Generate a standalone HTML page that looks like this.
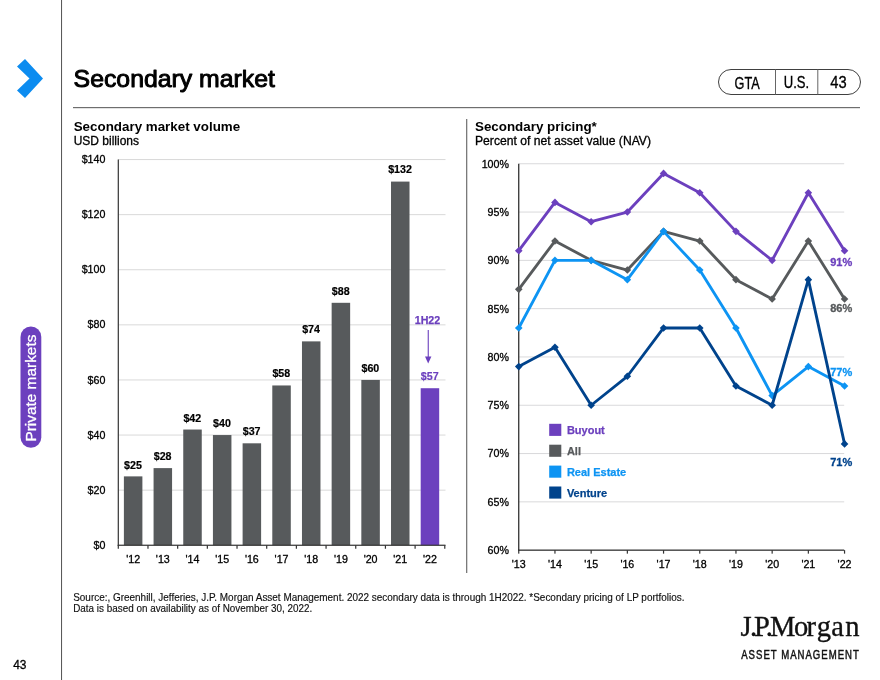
<!DOCTYPE html><html><head><meta charset="utf-8"><title>Secondary market</title>
<style>html,body{margin:0;padding:0;background:#fff}body{width:880px;height:680px;overflow:hidden;font-family:"Liberation Sans",Arial,sans-serif}svg{display:block}text{font-family:"Liberation Sans",Arial,sans-serif}.k{stroke:#000;stroke-width:.3px}</style></head><body>
<svg width="880" height="680" viewBox="0 0 880 680">
<rect width="880" height="680" fill="#fff"/>
<rect x="61" y="0" width="1.05" height="680" fill="#5a5a5a"/>
<polygon points="25,59 43,78.5 25,98 17,90.5 29.5,78.5 17,66.5" fill="#0c8cf0"/>
<rect x="20.5" y="326.5" width="20.8" height="121.3" rx="10.4" fill="#6c40be"/>
<text transform="translate(36.3,441.6) rotate(-90)" font-size="15" fill="#fff" stroke="#fff" stroke-width="0.3" textLength="107" lengthAdjust="spacingAndGlyphs">Private markets</text>
<text x="13.2" y="668.9" font-size="13.2" fill="#000" class="k" textLength="13.3" lengthAdjust="spacingAndGlyphs">43</text>
<text x="73.6" y="87.4" font-size="23.6" fill="#000" stroke="#000" stroke-width="0.95" stroke-linejoin="round" textLength="201.3" lengthAdjust="spacingAndGlyphs">Secondary market</text>
<rect x="73" y="107" width="787" height="1.2" fill="#6e6e6e"/>
<rect x="718.5" y="69.5" width="142" height="25" rx="12.5" fill="#fff" stroke="#2a2a2a" stroke-width="0.9"/>
<rect x="775" y="69.5" width="1" height="25" fill="#666"/><rect x="817.3" y="69.5" width="1" height="25" fill="#666"/>
<text x="734.5" y="88.8" font-size="15.6" fill="#000" class="k" textLength="25.2" lengthAdjust="spacingAndGlyphs">GTA</text>
<text x="783.8" y="88.1" font-size="15.6" fill="#000" class="k" textLength="25.4" lengthAdjust="spacingAndGlyphs">U.S.</text>
<text x="830.3" y="88.1" font-size="15.6" fill="#000" class="k" textLength="16.4" lengthAdjust="spacingAndGlyphs">43</text>
<text x="73.7" y="130.9" font-size="13.6" font-weight="bold" fill="#000" textLength="166.5" lengthAdjust="spacingAndGlyphs">Secondary market volume</text>
<text x="73.7" y="144.9" font-size="12" fill="#000" class="k">USD billions</text>
<text x="105.4" y="549" font-size="10.67" text-anchor="end" fill="#000" class="k">$0</text>
<rect x="118.3" y="489.65" width="327.2" height="1" fill="#d9d9d9"/>
<text x="105.4" y="494" font-size="10.67" text-anchor="end" fill="#000" class="k">$20</text>
<rect x="118.3" y="434.55" width="327.2" height="1" fill="#d9d9d9"/>
<text x="105.4" y="439" font-size="10.67" text-anchor="end" fill="#000" class="k">$40</text>
<rect x="118.3" y="379.45" width="327.2" height="1" fill="#d9d9d9"/>
<text x="105.4" y="384" font-size="10.67" text-anchor="end" fill="#000" class="k">$60</text>
<rect x="118.3" y="324.35" width="327.2" height="1" fill="#d9d9d9"/>
<text x="105.4" y="328" font-size="10.67" text-anchor="end" fill="#000" class="k">$80</text>
<rect x="118.3" y="269.25" width="327.2" height="1" fill="#d9d9d9"/>
<text x="105.4" y="273" font-size="10.67" text-anchor="end" fill="#000" class="k">$100</text>
<rect x="118.3" y="214.15" width="327.2" height="1" fill="#d9d9d9"/>
<text x="105.4" y="218" font-size="10.67" text-anchor="end" fill="#000" class="k">$120</text>
<rect x="118.3" y="159.05" width="327.2" height="1" fill="#d9d9d9"/>
<text x="105.4" y="163" font-size="10.67" text-anchor="end" fill="#000" class="k">$140</text>
<rect x="123.89" y="476.38" width="18.5" height="68.88" fill="#575a5c"/>
<text x="132.94" y="469" font-size="10.67" font-weight="bold" text-anchor="middle" fill="#000" stroke="#000" stroke-width="0.2">$25</text>
<text x="133.14" y="563" font-size="10.67" text-anchor="middle" fill="#000" class="k">'12</text>
<rect x="153.57" y="468.11" width="18.5" height="77.14" fill="#575a5c"/>
<text x="162.62" y="460" font-size="10.67" font-weight="bold" text-anchor="middle" fill="#000" stroke="#000" stroke-width="0.2">$28</text>
<text x="162.82" y="563" font-size="10.67" text-anchor="middle" fill="#000" class="k">'13</text>
<rect x="183.25" y="429.54" width="18.5" height="115.71" fill="#575a5c"/>
<text x="192.30" y="422" font-size="10.67" font-weight="bold" text-anchor="middle" fill="#000" stroke="#000" stroke-width="0.2">$42</text>
<text x="192.50" y="563" font-size="10.67" text-anchor="middle" fill="#000" class="k">'14</text>
<rect x="212.93" y="435.05" width="18.5" height="110.20" fill="#575a5c"/>
<text x="221.98" y="427" font-size="10.67" font-weight="bold" text-anchor="middle" fill="#000" stroke="#000" stroke-width="0.2">$40</text>
<text x="222.18" y="563" font-size="10.67" text-anchor="middle" fill="#000" class="k">'15</text>
<rect x="242.61" y="443.31" width="18.5" height="101.94" fill="#575a5c"/>
<text x="251.66" y="435" font-size="10.67" font-weight="bold" text-anchor="middle" fill="#000" stroke="#000" stroke-width="0.2">$37</text>
<text x="251.86" y="563" font-size="10.67" text-anchor="middle" fill="#000" class="k">'16</text>
<rect x="272.29" y="385.46" width="18.5" height="159.79" fill="#575a5c"/>
<text x="281.34" y="377" font-size="10.67" font-weight="bold" text-anchor="middle" fill="#000" stroke="#000" stroke-width="0.2">$58</text>
<text x="281.54" y="563" font-size="10.67" text-anchor="middle" fill="#000" class="k">'17</text>
<rect x="301.97" y="341.38" width="18.5" height="203.87" fill="#575a5c"/>
<text x="311.02" y="333" font-size="10.67" font-weight="bold" text-anchor="middle" fill="#000" stroke="#000" stroke-width="0.2">$74</text>
<text x="311.22" y="563" font-size="10.67" text-anchor="middle" fill="#000" class="k">'18</text>
<rect x="331.65" y="302.81" width="18.5" height="242.44" fill="#575a5c"/>
<text x="340.70" y="295" font-size="10.67" font-weight="bold" text-anchor="middle" fill="#000" stroke="#000" stroke-width="0.2">$88</text>
<text x="340.90" y="563" font-size="10.67" text-anchor="middle" fill="#000" class="k">'19</text>
<rect x="361.33" y="379.95" width="18.5" height="165.30" fill="#575a5c"/>
<text x="370.38" y="372" font-size="10.67" font-weight="bold" text-anchor="middle" fill="#000" stroke="#000" stroke-width="0.2">$60</text>
<text x="370.58" y="563" font-size="10.67" text-anchor="middle" fill="#000" class="k">'20</text>
<rect x="391.01" y="181.59" width="18.5" height="363.66" fill="#575a5c"/>
<text x="400.06" y="173" font-size="10.67" font-weight="bold" text-anchor="middle" fill="#000" stroke="#000" stroke-width="0.2">$132</text>
<text x="400.26" y="563" font-size="10.67" text-anchor="middle" fill="#000" class="k">'21</text>
<rect x="420.69" y="388.22" width="18.5" height="157.03" fill="#6c40be"/>
<text x="429.74" y="380" font-size="10.67" font-weight="bold" text-anchor="middle" fill="#6c40be" stroke="#6c40be" stroke-width="0.2">$57</text>
<text x="429.94" y="563" font-size="10.67" text-anchor="middle" fill="#000" class="k">'22</text>
<rect x="117.7" y="159.5" width="1.2" height="386.35" fill="#333"/>
<rect x="117.7" y="544.65" width="327.8" height="1.2" fill="#333"/>
<rect x="117.70" y="545.25" width="1.2" height="3.5" fill="#333"/>
<rect x="147.38" y="545.25" width="1.2" height="3.5" fill="#333"/>
<rect x="177.06" y="545.25" width="1.2" height="3.5" fill="#333"/>
<rect x="206.74" y="545.25" width="1.2" height="3.5" fill="#333"/>
<rect x="236.42" y="545.25" width="1.2" height="3.5" fill="#333"/>
<rect x="266.10" y="545.25" width="1.2" height="3.5" fill="#333"/>
<rect x="295.78" y="545.25" width="1.2" height="3.5" fill="#333"/>
<rect x="325.46" y="545.25" width="1.2" height="3.5" fill="#333"/>
<rect x="355.14" y="545.25" width="1.2" height="3.5" fill="#333"/>
<rect x="384.82" y="545.25" width="1.2" height="3.5" fill="#333"/>
<rect x="414.50" y="545.25" width="1.2" height="3.5" fill="#333"/>
<rect x="444.18" y="545.25" width="1.2" height="3.5" fill="#333"/>
<text x="427.5" y="323.6" font-size="10.67" font-weight="bold" text-anchor="middle" fill="#6c40be" stroke="#6c40be" stroke-width="0.25">1H22</text>
<rect x="427.7" y="330" width="1.1" height="28" fill="#6c40be"/>
<polygon points="425,356.5 431.4,356.5 428.2,363.6" fill="#6c40be"/>
<rect x="466.2" y="119" width="1.05" height="454" fill="#5a5a5a"/>
<text x="475" y="130.9" font-size="13.6" font-weight="bold" fill="#000" textLength="121.8" lengthAdjust="spacingAndGlyphs">Secondary pricing*</text>
<text x="475" y="144.9" font-size="12" fill="#000" class="k" textLength="176" lengthAdjust="spacingAndGlyphs">Percent of net asset value (NAV)</text>
<text x="508.9" y="554" font-size="10.67" text-anchor="end" fill="#000" class="k">60%</text>
<rect x="518.75" y="501.35" width="325.45000000000005" height="1" fill="#d9d9db"/>
<text x="508.9" y="506" font-size="10.67" text-anchor="end" fill="#000" class="k">65%</text>
<rect x="518.75" y="453.05" width="325.45000000000005" height="1" fill="#d9d9db"/>
<text x="508.9" y="457" font-size="10.67" text-anchor="end" fill="#000" class="k">70%</text>
<rect x="518.75" y="404.75" width="325.45000000000005" height="1" fill="#d9d9db"/>
<text x="508.9" y="409" font-size="10.67" text-anchor="end" fill="#000" class="k">75%</text>
<rect x="518.75" y="356.45" width="325.45000000000005" height="1" fill="#d9d9db"/>
<text x="508.9" y="361" font-size="10.67" text-anchor="end" fill="#000" class="k">80%</text>
<rect x="518.75" y="308.15" width="325.45000000000005" height="1" fill="#d9d9db"/>
<text x="508.9" y="313" font-size="10.67" text-anchor="end" fill="#000" class="k">85%</text>
<rect x="518.75" y="259.85" width="325.45000000000005" height="1" fill="#d9d9db"/>
<text x="508.9" y="264" font-size="10.67" text-anchor="end" fill="#000" class="k">90%</text>
<rect x="518.75" y="211.55" width="325.45000000000005" height="1" fill="#d9d9db"/>
<text x="508.9" y="216" font-size="10.67" text-anchor="end" fill="#000" class="k">95%</text>
<rect x="518.75" y="163.25" width="325.45000000000005" height="1" fill="#d9d9db"/>
<text x="508.9" y="168" font-size="10.67" text-anchor="end" fill="#000" class="k">100%</text>
<rect x="518.15" y="163.75" width="1.2" height="387.0" fill="#222"/>
<rect x="518.15" y="549.55" width="326.05000000000007" height="1.2" fill="#222"/>
<text x="518.75" y="568.1" font-size="10.67" text-anchor="middle" fill="#000" class="k">'13</text>
<rect x="518.15" y="550.15" width="1.2" height="3.5" fill="#333"/>
<text x="554.95" y="568.1" font-size="10.67" text-anchor="middle" fill="#000" class="k">'14</text>
<rect x="554.35" y="550.15" width="1.2" height="3.5" fill="#333"/>
<text x="591.15" y="568.1" font-size="10.67" text-anchor="middle" fill="#000" class="k">'15</text>
<rect x="590.55" y="550.15" width="1.2" height="3.5" fill="#333"/>
<text x="627.35" y="568.1" font-size="10.67" text-anchor="middle" fill="#000" class="k">'16</text>
<rect x="626.75" y="550.15" width="1.2" height="3.5" fill="#333"/>
<text x="663.55" y="568.1" font-size="10.67" text-anchor="middle" fill="#000" class="k">'17</text>
<rect x="662.95" y="550.15" width="1.2" height="3.5" fill="#333"/>
<text x="699.75" y="568.1" font-size="10.67" text-anchor="middle" fill="#000" class="k">'18</text>
<rect x="699.15" y="550.15" width="1.2" height="3.5" fill="#333"/>
<text x="735.95" y="568.1" font-size="10.67" text-anchor="middle" fill="#000" class="k">'19</text>
<rect x="735.35" y="550.15" width="1.2" height="3.5" fill="#333"/>
<text x="772.15" y="568.1" font-size="10.67" text-anchor="middle" fill="#000" class="k">'20</text>
<rect x="771.55" y="550.15" width="1.2" height="3.5" fill="#333"/>
<text x="808.35" y="568.1" font-size="10.67" text-anchor="middle" fill="#000" class="k">'21</text>
<rect x="807.75" y="550.15" width="1.2" height="3.5" fill="#333"/>
<text x="844.55" y="568.1" font-size="10.67" text-anchor="middle" fill="#000" class="k">'22</text>
<rect x="843.95" y="550.15" width="1.2" height="3.5" fill="#333"/>
<polyline fill="none" stroke="#6c40be" stroke-width="2.85" stroke-linejoin="round" points="518.75,250.69 554.95,202.39 591.15,221.71 627.35,212.05 663.55,173.41 699.75,192.73 735.95,231.37 772.15,260.35 808.35,192.73 844.55,250.69"/>
<polygon fill="#6c40be" points="514.95,250.69 518.75,246.89 522.55,250.69 518.75,254.49"/>
<polygon fill="#6c40be" points="551.15,202.39 554.95,198.59 558.75,202.39 554.95,206.19"/>
<polygon fill="#6c40be" points="587.35,221.71 591.15,217.91 594.95,221.71 591.15,225.51"/>
<polygon fill="#6c40be" points="623.55,212.05 627.35,208.25 631.15,212.05 627.35,215.85"/>
<polygon fill="#6c40be" points="659.75,173.41 663.55,169.61 667.35,173.41 663.55,177.21"/>
<polygon fill="#6c40be" points="695.95,192.73 699.75,188.93 703.55,192.73 699.75,196.53"/>
<polygon fill="#6c40be" points="732.15,231.37 735.95,227.57 739.75,231.37 735.95,235.17"/>
<polygon fill="#6c40be" points="768.35,260.35 772.15,256.55 775.95,260.35 772.15,264.15"/>
<polygon fill="#6c40be" points="804.55,192.73 808.35,188.93 812.15,192.73 808.35,196.53"/>
<polygon fill="#6c40be" points="840.75,250.69 844.55,246.89 848.35,250.69 844.55,254.49"/>
<text x="830.2" y="265.6" font-size="11" font-weight="bold" fill="#6c40be" stroke="#6c40be" stroke-width="0.3">91%</text>
<polyline fill="none" stroke="#575a5c" stroke-width="2.85" stroke-linejoin="round" points="518.75,289.33 554.95,241.03 591.15,260.35 627.35,270.01 663.55,231.37 699.75,241.03 735.95,279.67 772.15,298.99 808.35,241.03 844.55,298.99"/>
<polygon fill="#575a5c" points="514.95,289.33 518.75,285.53 522.55,289.33 518.75,293.13"/>
<polygon fill="#575a5c" points="551.15,241.03 554.95,237.23 558.75,241.03 554.95,244.83"/>
<polygon fill="#575a5c" points="587.35,260.35 591.15,256.55 594.95,260.35 591.15,264.15"/>
<polygon fill="#575a5c" points="623.55,270.01 627.35,266.21 631.15,270.01 627.35,273.81"/>
<polygon fill="#575a5c" points="659.75,231.37 663.55,227.57 667.35,231.37 663.55,235.17"/>
<polygon fill="#575a5c" points="695.95,241.03 699.75,237.23 703.55,241.03 699.75,244.83"/>
<polygon fill="#575a5c" points="732.15,279.67 735.95,275.87 739.75,279.67 735.95,283.47"/>
<polygon fill="#575a5c" points="768.35,298.99 772.15,295.19 775.95,298.99 772.15,302.79"/>
<polygon fill="#575a5c" points="804.55,241.03 808.35,237.23 812.15,241.03 808.35,244.83"/>
<polygon fill="#575a5c" points="840.75,298.99 844.55,295.19 848.35,298.99 844.55,302.79"/>
<text x="830.2" y="311.9" font-size="11" font-weight="bold" fill="#575a5c" stroke="#575a5c" stroke-width="0.3">86%</text>
<polyline fill="none" stroke="#0d94f3" stroke-width="2.85" stroke-linejoin="round" points="518.75,327.97 554.95,260.35 591.15,260.35 627.35,279.67 663.55,231.37 699.75,270.01 735.95,327.97 772.15,395.59 808.35,366.61 844.55,385.93"/>
<polygon fill="#0d94f3" points="514.95,327.97 518.75,324.17 522.55,327.97 518.75,331.77"/>
<polygon fill="#0d94f3" points="551.15,260.35 554.95,256.55 558.75,260.35 554.95,264.15"/>
<polygon fill="#0d94f3" points="587.35,260.35 591.15,256.55 594.95,260.35 591.15,264.15"/>
<polygon fill="#0d94f3" points="623.55,279.67 627.35,275.87 631.15,279.67 627.35,283.47"/>
<polygon fill="#0d94f3" points="659.75,231.37 663.55,227.57 667.35,231.37 663.55,235.17"/>
<polygon fill="#0d94f3" points="695.95,270.01 699.75,266.21 703.55,270.01 699.75,273.81"/>
<polygon fill="#0d94f3" points="732.15,327.97 735.95,324.17 739.75,327.97 735.95,331.77"/>
<polygon fill="#0d94f3" points="768.35,395.59 772.15,391.79 775.95,395.59 772.15,399.39"/>
<polygon fill="#0d94f3" points="804.55,366.61 808.35,362.81 812.15,366.61 808.35,370.41"/>
<polygon fill="#0d94f3" points="840.75,385.93 844.55,382.13 848.35,385.93 844.55,389.73"/>
<text x="830.2" y="375.5" font-size="11" font-weight="bold" fill="#0d94f3" stroke="#0d94f3" stroke-width="0.3">77%</text>
<polyline fill="none" stroke="#00438c" stroke-width="2.85" stroke-linejoin="round" points="518.75,366.61 554.95,347.29 591.15,405.25 627.35,376.27 663.55,327.97 699.75,327.97 735.95,385.93 772.15,405.25 808.35,279.67 844.55,443.89"/>
<polygon fill="#00438c" points="514.95,366.61 518.75,362.81 522.55,366.61 518.75,370.41"/>
<polygon fill="#00438c" points="551.15,347.29 554.95,343.49 558.75,347.29 554.95,351.09"/>
<polygon fill="#00438c" points="587.35,405.25 591.15,401.45 594.95,405.25 591.15,409.05"/>
<polygon fill="#00438c" points="623.55,376.27 627.35,372.47 631.15,376.27 627.35,380.07"/>
<polygon fill="#00438c" points="659.75,327.97 663.55,324.17 667.35,327.97 663.55,331.77"/>
<polygon fill="#00438c" points="695.95,327.97 699.75,324.17 703.55,327.97 699.75,331.77"/>
<polygon fill="#00438c" points="732.15,385.93 735.95,382.13 739.75,385.93 735.95,389.73"/>
<polygon fill="#00438c" points="768.35,405.25 772.15,401.45 775.95,405.25 772.15,409.05"/>
<polygon fill="#00438c" points="804.55,279.67 808.35,275.87 812.15,279.67 808.35,283.47"/>
<polygon fill="#00438c" points="840.75,443.89 844.55,440.09 848.35,443.89 844.55,447.69"/>
<text x="830.2" y="465.6" font-size="11" font-weight="bold" fill="#00438c" stroke="#00438c" stroke-width="0.3">71%</text>
<rect x="549.2" y="423.80" width="12.1" height="12.1" fill="#6c40be"/>
<text x="566.9" y="433.90" font-size="11" font-weight="bold" fill="#6c40be" stroke="#6c40be" stroke-width="0.25">Buyout</text>
<rect x="549.2" y="444.70" width="12.1" height="12.1" fill="#575a5c"/>
<text x="566.9" y="454.80" font-size="11" font-weight="bold" fill="#575a5c" stroke="#575a5c" stroke-width="0.25">All</text>
<rect x="549.2" y="465.60" width="12.1" height="12.1" fill="#0d94f3"/>
<text x="566.9" y="475.70" font-size="11" font-weight="bold" fill="#0d94f3" stroke="#0d94f3" stroke-width="0.25">Real Estate</text>
<rect x="549.2" y="486.50" width="12.1" height="12.1" fill="#00438c"/>
<text x="566.9" y="496.60" font-size="11" font-weight="bold" fill="#00438c" stroke="#00438c" stroke-width="0.25">Venture</text>
<text x="73.2" y="600.8" font-size="10.1" fill="#111" stroke="#111" stroke-width="0.15" textLength="611.3" lengthAdjust="spacingAndGlyphs">Source:, Greenhill, Jefferies, J.P. Morgan Asset Management. 2022 secondary data is through 1H2022. *Secondary pricing of LP portfolios.</text>
<text x="73.2" y="612" font-size="10.1" fill="#111" stroke="#111" stroke-width="0.15" textLength="239.1" lengthAdjust="spacingAndGlyphs">Data is based on availability as of November 30, 2022.</text>
<text x="740.6 750 754 765.7 770 793.9 806.5 816.8 831.3 845.3" y="636.3" font-size="28.5" fill="#111" stroke="#111" stroke-width="0.35" style="font-family:'Liberation Serif',serif">J.P.Morgan</text>
<text transform="translate(741.2,658.6) scale(0.8,1)" font-size="12" letter-spacing="1.25" fill="#111" stroke="#111" stroke-width="0.45">ASSET MANAGEMENT</text>
</svg></body></html>
